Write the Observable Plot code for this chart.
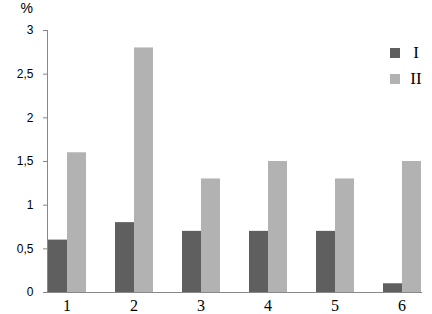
<!DOCTYPE html>
<html><head><meta charset="utf-8">
<script src="https://cdn.jsdelivr.net/npm/d3@7"></script>
<script src="https://cdn.jsdelivr.net/npm/@observablehq/plot@0.6"></script>
<style>
body{margin:0;background:#fff;overflow:hidden}
#wrap{position:relative;width:432px;height:314px;overflow:hidden}
#legend{position:absolute;left:390px;top:40px;font-family:"Liberation Serif",serif;font-size:17px;color:#000}
#legend .item{display:flex;align-items:center;height:26px}
#legend .sw{width:10px;height:10px;margin-right:8px}
#legend .lab{width:16px;text-align:center}
</style>
</head><body><div id="wrap"></div>
<script>
const groups = ["1","2","3","4","5","6"];
const seriesNames = ["I","II"];
const valuesI = [0.6, 0.8, 0.7, 0.7, 0.7, 0.1];
const valuesII = [1.6, 2.8, 1.3, 1.5, 1.3, 1.5];
const yTicks = [0, 0.5, 1, 1.5, 2, 2.5, 3];
const colors = ["#5f5f5f", "#b2b2b2"];

const data = groups.flatMap((g, i) => [
  {g, s: "I", v: valuesI[i]},
  {g, s: "II", v: valuesII[i]}
]);
const fmt = d => String(d).replace(".", ",");

const chart = Plot.plot({
  width: 432, height: 314,
  marginLeft: 30, marginRight: -5, marginTop: 30, marginBottom: 22,
  style: {fontFamily: "Liberation Serif", background: "#fff", overflow: "hidden"},
  fx: {domain: groups, paddingInner: 0.42, paddingOuter: 0.21, label: null},
  x: {domain: seriesNames, padding: 0, axis: null},
  y: {domain: [0, 3]},
  color: {domain: seriesNames, range: colors},
  marks: [
    Plot.barY(data, {fx: "g", x: "s", y: "v", fill: "s"}),
    Plot.frame({anchor: "bottom", stroke: "#888", facet: "super"}),
    Plot.frame({anchor: "left", stroke: "#888", facet: "super"}),
    Plot.axisFx({anchor: "bottom", tickSize: 0, tickPadding: 7, fontSize: 16, fontFamily: "Liberation Serif", label: null}),
    Plot.axisY({ticks: yTicks, tickFormat: fmt, tickSize: 4, tickPadding: 10, stroke: "#888",
      fontSize: 12, fontFamily: "Liberation Sans", label: null}),
    Plot.axisY({ticks: [], tickSize: 0, fontSize: 14, fontFamily: "Liberation Sans",
      label: "%", labelAnchor: "top", labelArrow: "none"})
  ]
});
const wrap = document.getElementById("wrap");
wrap.appendChild(chart);
const legend = document.createElement("div");
legend.id = "legend";
seriesNames.forEach((s, i) => {
  const it = document.createElement("div");
  it.className = "item";
  it.innerHTML = `<span class="sw" style="background:${colors[i]}"></span><span class="lab">${s}</span>`;
  legend.appendChild(it);
});
wrap.appendChild(legend);
</script>
</body></html>
